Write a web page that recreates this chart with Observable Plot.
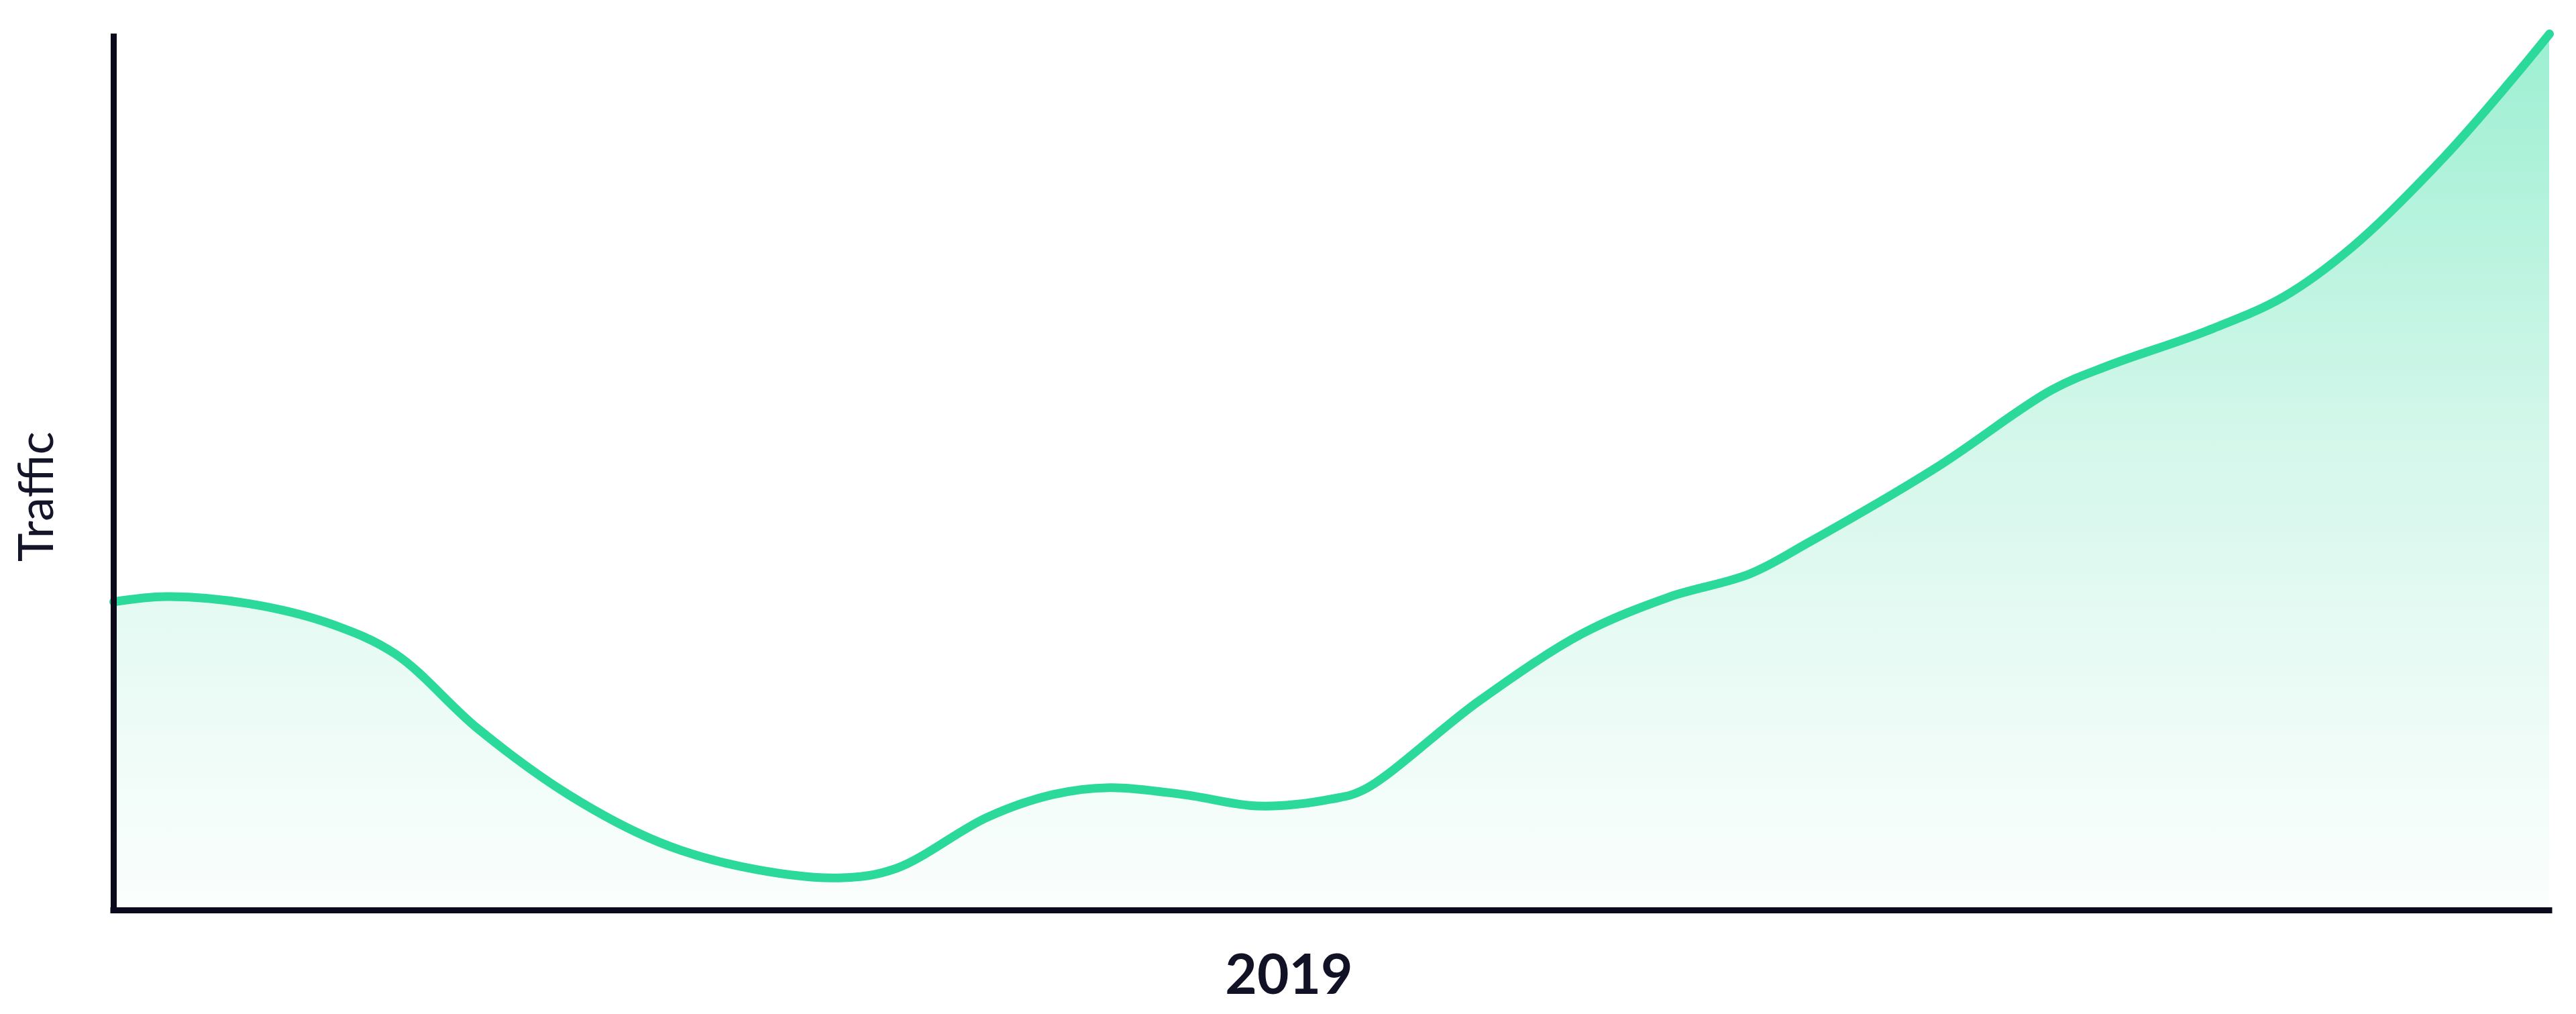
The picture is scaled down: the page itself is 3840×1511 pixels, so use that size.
<!DOCTYPE html>
<html>
<head>
<meta charset="utf-8">
<script src="https://cdn.jsdelivr.net/npm/d3@7"></script>
<script src="https://cdn.jsdelivr.net/npm/@observablehq/plot@0.6"></script>
<style>
  html, body { margin: 0; padding: 0; background: #ffffff; }
  #chart svg { display: block; }
</style>
</head>
<body>
<div id="chart"></div>
<script>
// Position through the year (0 = start, 1 = end)
const yearPosition = [0, 0.0216, 0.0553, 0.0889, 0.1159, 0.1496, 0.1867, 0.2237, 0.2574, 0.2978, 0.3214, 0.3585, 0.3854, 0.409, 0.4394, 0.4697, 0.5, 0.5135, 0.5606, 0.6031, 0.6381, 0.6718, 0.6954, 0.7487, 0.7958, 0.8194, 0.8592, 0.8908, 0.9191, 0.9569, 0.9852, 1.0];
// Traffic (relative units, 0 = axis, 100 = top)
const traffic = [35.2, 35.8, 35.0, 32.7, 29.2, 20.7, 13.2, 7.8, 5.0, 3.7, 4.8, 10.6, 13.2, 14.0, 13.2, 11.9, 12.7, 13.8, 23.9, 31.6, 35.7, 38.4, 41.9, 50.6, 59.4, 62.2, 66.1, 70.0, 75.7, 86.0, 95.0, 100];
const xTickPositions = [0.4825];
const xTickLabels = ["2019"];
const yLabel = "Traffic";

const data = yearPosition.map((t, i) => ({t, v: traffic[i]}));

const gradient = () => {
  const defs = d3.create("svg:defs");
  const g = defs.append("linearGradient")
    .attr("id", "trafficFill")
    .attr("x1", 0).attr("y1", 0).attr("x2", 0).attr("y2", 1);
  g.append("stop").attr("offset", "0%").attr("stop-color", "#9cefd2");
  g.append("stop").attr("offset", "45%").attr("stop-color", "#d3f7ea");
  g.append("stop").attr("offset", "75%").attr("stop-color", "#ebfbf5");
  g.append("stop").attr("offset", "100%").attr("stop-color", "#fbfefd");
  return defs.node();
};

const chart = Plot.plot({
  width: 3840,
  height: 1511,
  marginLeft: 169,
  marginRight: 40,
  marginTop: 50,
  marginBottom: 155,
  style: {background: "#ffffff", fontFamily: "Lato, 'Open Sans', sans-serif"},
  x: {domain: [0, 1]},
  y: {domain: [0, 100]},
  marks: [
    gradient,
    Plot.areaY(data, {x: "t", y: "v", curve: "catmull-rom", fill: "url(#trafficFill)"}),
    Plot.lineY(data, {x: "t", y: "v", curve: "catmull-rom", stroke: "#2bd99b", strokeWidth: 13, strokeLinecap: "round", strokeLinejoin: "round"}),
    Plot.ruleX([0], {stroke: "#0a0a1c", strokeWidth: 9}),
    Plot.ruleY([0], {stroke: "#0a0a1c", strokeWidth: 9, strokeLinecap: "square"}),
    Plot.axisX({
      ticks: xTickPositions,
      tickFormat: (d) => xTickLabels[xTickPositions.indexOf(d)],
      tickSize: 0,
      tickPadding: 66,
      fontSize: 82,
      fontWeight: 700,
      fill: "#121226",
      label: null
    }),
    Plot.axisY({ticks: [], label: null}),
    Plot.text([yLabel], {
      x: 0, y: 47.2, text: (d) => d, rotate: -90,
      dx: -114, fontSize: 72, fontWeight: 400, fill: "#15152a",
      textAnchor: "middle"
    })
  ]
});

document.getElementById("chart").appendChild(chart);
</script>
</body>
</html>
